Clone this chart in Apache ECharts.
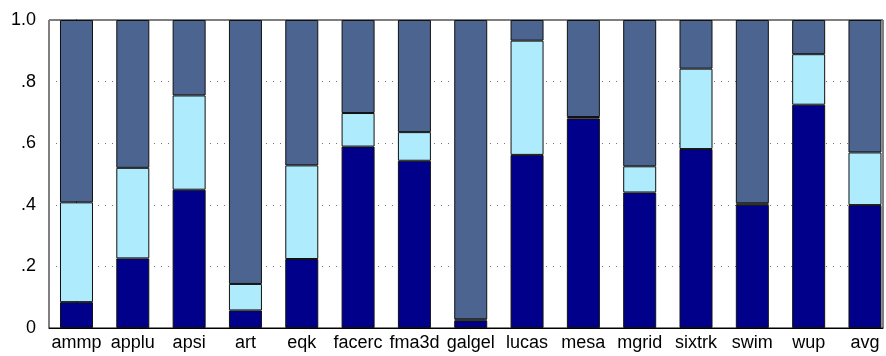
<!DOCTYPE html>
<html>
<head>
<meta charset="utf-8">
<script src="https://cdn.jsdelivr.net/npm/echarts@6/dist/echarts.min.js"></script>
<style>
  html, body { margin: 0; padding: 0; background: #fff; }
  #chart { width: 886px; height: 356px; }
</style>
</head>
<body>
<div id="chart"></div>
<script>
// benchmark names, one bar each
var categories = ['ammp', 'applu', 'apsi', 'art', 'eqk', 'facerc', 'fma3d', 'galgel',
  'lucas', 'mesa', 'mgrid', 'sixtrk', 'swim', 'wup', 'avg']

// stacked segments, bottom to top (fractions)
var darkPart = [0.084, 0.226, 0.449, 0.057, 0.224, 0.589, 0.543, 0.024, 0.562, 0.680, 0.440, 0.581, 0.400, 0.725, 0.399]
var lightPart = [0.324, 0.294, 0.306, 0.086, 0.304, 0.109, 0.093, 0.004, 0.371, 0.005, 0.085, 0.261, 0.005, 0.164, 0.171]
var topPart = [0.592, 0.480, 0.245, 0.857, 0.472, 0.302, 0.364, 0.972, 0.067, 0.315, 0.475, 0.158, 0.595, 0.111, 0.430]

var yTickLabels = ['0', '.2', '.4', '.6', '.8', '1.0']

var chart = echarts.init(document.getElementById('chart'))

// value first so the stack runs on y, position second
function toPoints(arr) {
  return arr.map(function (v, i) { return [v, i] })
}

function makeSeries(name, arr, color) {
  return {
    name: name,
    type: 'bar',
    stack: 'total',
    barWidth: 33,
    encode: { x: 1, y: 0 },
    data: toPoints(arr),
    itemStyle: {
      color: color,
      borderColor: '#111',
      borderWidth: 1
    }
  }
}

chart.setOption({
  animation: false,
  textStyle: { fontFamily: 'Liberation Sans, Arial, sans-serif' },
  grid: {
    left: 49,
    right: 3,
    top: 20,
    bottom: 28,
    show: true,
    borderColor: '#000',
    borderWidth: 1
  },
  xAxis: {
    type: 'value',
    min: -0.488,
    max: 14.32,
    splitLine: { show: false },
    axisLine: { show: true, lineStyle: { color: '#000' } },
    axisTick: { show: false },
    axisLabel: {
      customValues: categories.map(function (c, i) { return i }),
      formatter: function (v) { return categories[Math.round(v)] },
      color: '#000',
      fontSize: 18,
      margin: 6,
      showMinLabel: true,
      showMaxLabel: true
    }
  },
  yAxis: {
    type: 'value',
    min: 0,
    max: 1,
    interval: 0.2,
    axisLine: { show: true, lineStyle: { color: '#000' } },
    axisTick: { show: false },
    axisLabel: {
      formatter: function (v) { return yTickLabels[Math.round(v / 0.2)] },
      color: '#000',
      fontSize: 18,
      margin: 13
    },
    splitLine: {
      show: true,
      lineStyle: { color: '#777', type: [1, 6], width: 1 }
    }
  },
  series: [
    makeSeries('part1', darkPart, '#00008b'),
    makeSeries('part2', lightPart, '#adebfd'),
    makeSeries('part3', topPart, '#4c6490')
  ]
})
</script>
</body>
</html>
